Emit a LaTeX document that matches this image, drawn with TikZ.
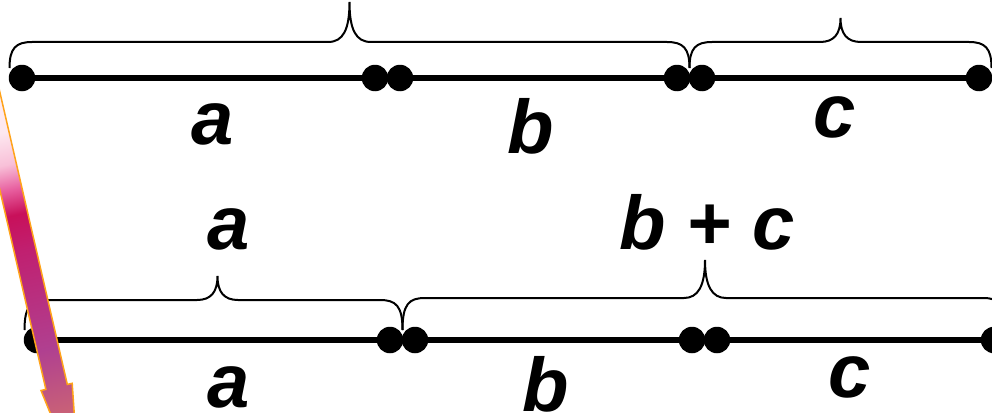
\documentclass[tikz,border=0pt]{standalone}
\usepackage{fontspec}
\setmainfont{Liberation Sans}
\usepackage{tikz}
\usetikzlibrary{calc}
\definecolor{arrowedge}{HTML}{FFA31A}
\definecolor{shtip}{HTML}{D2707A}
\definecolor{shhead}{HTML}{C86078}
\definecolor{shpurple}{HTML}{B04090}
\definecolor{shmagenta}{HTML}{B83080}
\definecolor{shdeep}{HTML}{C02070}
\definecolor{shcrimson}{HTML}{C8105A}
\definecolor{shpink}{HTML}{E860A0}
\definecolor{shlight}{HTML}{F8C0D8}
\definecolor{shpale}{HTML}{FDE8F0}
\definecolor{shtop}{HTML}{FFF2F6}
\pgfdeclareverticalshading{arrowfill}{100bp}{color(0bp)=(shtip); color(25bp)=(shtip); color(31.9bp)=(shhead); color(37.8bp)=(shpurple); color(42.5bp)=(shmagenta); color(47.2bp)=(shdeep); color(50.6bp)=(shcrimson); color(53bp)=(shpink); color(55.3bp)=(shlight); color(58.3bp)=(shpale); color(75bp)=(shtop); color(100bp)=(shtop)}

\begin{document}
\begin{tikzpicture}[x=1pt, y=-1pt,
    dot/.style={circle, fill=black, inner sep=0pt, minimum size=26.5pt},
    seg/.style={line width=6pt},
    brace/.style={line width=2pt},
    lbl/.style={anchor=base, inner sep=0pt, font=\fontsize{76}{80}\selectfont\bfseries\itshape},
]
\useasboundingbox (0,0) rectangle (992,412);
\clip (0,0) rectangle (992,412);
\fill[white] (0,0) rectangle (992,412);
% Upper line: a, b, c
\node[dot] (t1) at (22,78) {};
\node[dot] (t2) at (375,78) {};
\node[dot] (t3) at (400,78) {};
\node[dot] (t4) at (677,78) {};
\node[dot] (t5) at (702,78) {};
\node[dot] (t6) at (979,78) {};
\draw[seg] (t1) -- (t2);
\draw[seg] (t3) -- (t4);
\draw[seg] (t5) -- (t6);
\draw[brace] (9.5,68) .. controls (9.5,48) and (16,42) .. (32,42) -- (328,42)
    .. controls (343,42) and (349.5,30) .. (349.5,2)
    .. controls (349.5,30) and (356,42) .. (371,42) -- (667,42)
    .. controls (683,42) and (689.5,48) .. (689.5,68);
\draw[brace] (689.5,68) .. controls (689.5,48) and (696,42) .. (712,42) -- (820,42)
    .. controls (834,42) and (840.5,34) .. (840.5,18)
    .. controls (840.5,34) and (847,42) .. (861,42) -- (969,42)
    .. controls (985,42) and (991.5,48) .. (991.5,68);
\node[lbl] (ta) at (213,144) {a};
\node[lbl] (tb) at (531,153) {b};
\node[lbl] (tc) at (835,137) {c};
% Lower line: a, b + c
\node[dot] (u1) at (37,340) {};
\node[dot] (u2) at (390,340) {};
\node[dot] (u3) at (415,340) {};
\node[dot] (u4) at (692,340) {};
\node[dot] (u5) at (717,340) {};
\node[dot] (u6) at (994,340) {};
\draw[seg] (u1) -- (u2);
\draw[seg] (u3) -- (u4);
\draw[seg] (u5) -- (u6);
\draw[brace] (24.5,330) .. controls (24.5,306) and (31,300) .. (47,300) -- (197,300)
    .. controls (211,300) and (217.5,292) .. (217.5,276)
    .. controls (217.5,292) and (224,300) .. (238,300) -- (380,300)
    .. controls (396,300) and (402.5,306) .. (402.5,330);
\draw[brace] (402.5,330) .. controls (402.5,304) and (409,298) .. (425,298) -- (684,298)
    .. controls (698,298) and (705,286) .. (705,260)
    .. controls (705,286) and (712,298) .. (726,298) -- (983,298)
    .. controls (999,298) and (1005.5,304) .. (1005.5,330);
\node[lbl] (sa) at (229,249) {a};
\node[lbl] (sbc) at (707,249) {b + c};
\node[lbl] (ba) at (229,407) {a};
\node[lbl] (bb) at (546,411) {b};
\node[lbl] (bc) at (850,397) {c};
% shaded arrow at the left
\begin{scope}[transform canvas={shift={(25,250)}, rotate=13}]
\shadedraw[shading=arrowfill, draw=arrowedge, line width=1.5pt, line join=miter]
    (-11,-300) -- (11,-300) -- (11,140.5) -- (16,140.5) -- (0,240)
    -- (-16,140.5) -- (-11,140.5) -- cycle;
\end{scope}
\end{tikzpicture}
\end{document}
